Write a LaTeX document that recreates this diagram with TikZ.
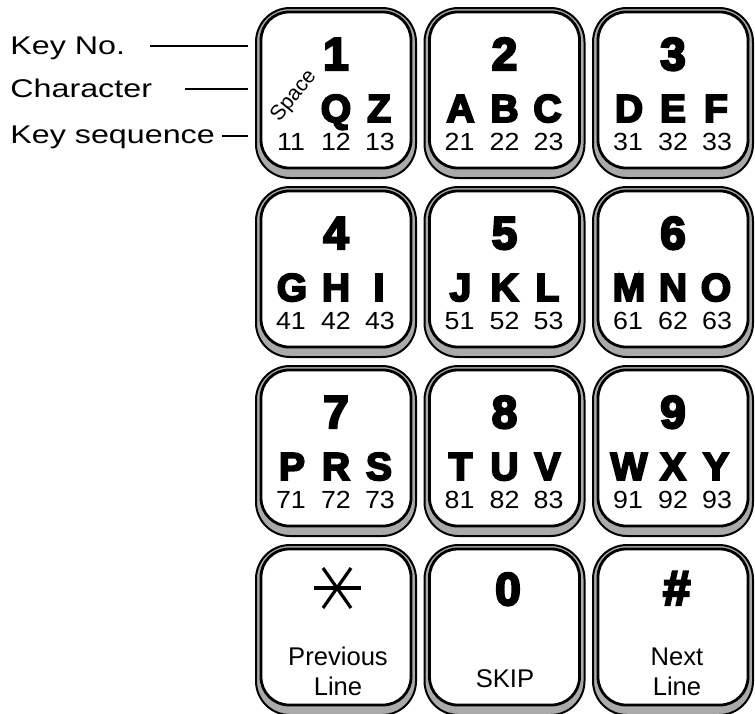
\documentclass[tikz,border=0pt]{standalone}
\usepackage{fontspec}
\usetikzlibrary{calc}
\setmainfont{Liberation Sans}
\newfontfamily\heavyfont{Liberation Sans Bold}[FakeBold=5]
\newfontfamily\heavyslant{Liberation Sans Bold Italic}[FakeBold=5]
\newfontfamily\labelfont{Liberation Sans}[FakeStretch=1.26]
\newfontfamily\seqfont{Liberation Sans}[FakeStretch=1.08]
\definecolor{keygray}{RGB}{170,170,170}

\tikzset{
	keyout/.style = {draw, line width=1pt, fill=keygray, rounded corners=17pt, minimum width=80pt, minimum height=85pt, inner sep=0pt},
	keyin/.style = {draw, line width=1.4pt, fill=white, rounded corners=14pt, minimum width=75pt, minimum height=78pt, inner sep=0pt},
	keyno/.style = {font=\heavyfont\fontsize{23}{23}\selectfont, inner sep=0pt, anchor=base},
	keychar/.style = {font=\heavyfont\fontsize{19.5}{20}\selectfont, inner sep=0pt, anchor=base},
	keyseq/.style = {font=\seqfont\fontsize{12.4}{13}\selectfont, inner sep=0pt, anchor=base},
	keytxt/.style = {font=\fontsize{12.8}{14}\selectfont, inner sep=0pt, anchor=base},
	lbl/.style = {font=\labelfont\fontsize{12.8}{13}\selectfont, inner sep=0pt, anchor=base west}
}

\begin{document}
\begin{tikzpicture}[x=0.5pt, y=-0.5pt]
	\useasboundingbox (0,0) rectangle (755,713);
	% keys 1 to 9
	\foreach \num/\ca/\cb/\cc [count=\i from 0] in {1/{}/Q/Z, 2/A/B/C, 3/D/E/F, 4/G/H/I, 5/J/K/L, 6/M/N/O, 7/P/R/S, 8/T/U/V, 9/W/X/Y} {
		\pgfmathsetmacro\cx{336+168.5*mod(\i,3)}
		\pgfmathsetmacro\ty{8+179*floor(\i/3)}
		\node[keyout] (key\num) at (\cx,\ty+85) {};
		\node[keyin] (pad\num) at (\cx,\ty+82) {};
		\node[keyno] (no\num) at (\cx,\ty+62) {\num};
		\node[keychar] (cha\num) at (\cx-44,\ty+114) {\ca};
		\node[keychar] (chb\num) at (\cx,\ty+114) {\cb};
		\node[keychar] (chc\num) at (\cx+43,\ty+114) {\cc};
		\node[keyseq] (sqa\num) at (\cx-45,\ty+142) {\num1};
		\node[keyseq] (sqb\num) at (\cx,\ty+142) {\num2};
		\node[keyseq] (sqc\num) at (\cx+44,\ty+142) {\num3};
	}
	\node[rotate=51, font=\fontsize{10.5}{11}\selectfont, inner sep=0pt] (space) at (294,96) {Space};

	% bottom row
	\foreach \name/\cx in {star/336, zero/504.5, hash/673} {
		\node[keyout] (key\name) at (\cx,630) {};
		\node[keyin] (pad\name) at (\cx,627) {};
	}
	\coordinate (star) at (337,588);
	\draw[line width=1.6pt] ($(star)+(-23.5,0)$) -- ($(star)+(23.5,0)$);
	\draw[line width=1.6pt] ($(star)+(-14,-20)$) -- ($(star)+(14,20)$);
	\draw[line width=1.6pt] ($(star)+(14,-20)$) -- ($(star)+(-14,20)$);
	\node[keytxt] (prev1) at (338,665) {Previous};
	\node[keytxt] (prev2) at (338,695) {Line};
	\node[keyno] (no0) at (508,605) {0};
	\node[keytxt] (skip) at (505,687) {SKIP};
	\node[keyno, font=\heavyslant\fontsize{24.5}{25}\selectfont] (nohash) at (676,605) {\#};
	\node[keytxt] (next1) at (677,665) {Next};
	\node[keytxt] (next2) at (677,695) {Line};

	% legend
	\node[lbl] (lblno) at (10,54) {Key No.};
	\node[lbl] (lblchar) at (10,97) {Character};
	\node[lbl] (lblseq) at (10,143) {Key sequence};
	\coordinate (fromno) at (150,46);
	\coordinate (tono) at (248,46);
	\coordinate (fromchar) at (185,89);
	\coordinate (tochar) at (248,89);
	\coordinate (fromseq) at (222,136);
	\coordinate (toseq) at (248,136);
	\draw[line width=1pt] (fromno) -- (tono);
	\draw[line width=1pt] (fromchar) -- (tochar);
	\draw[line width=1pt] (fromseq) -- (toseq);
\end{tikzpicture}
\end{document}
